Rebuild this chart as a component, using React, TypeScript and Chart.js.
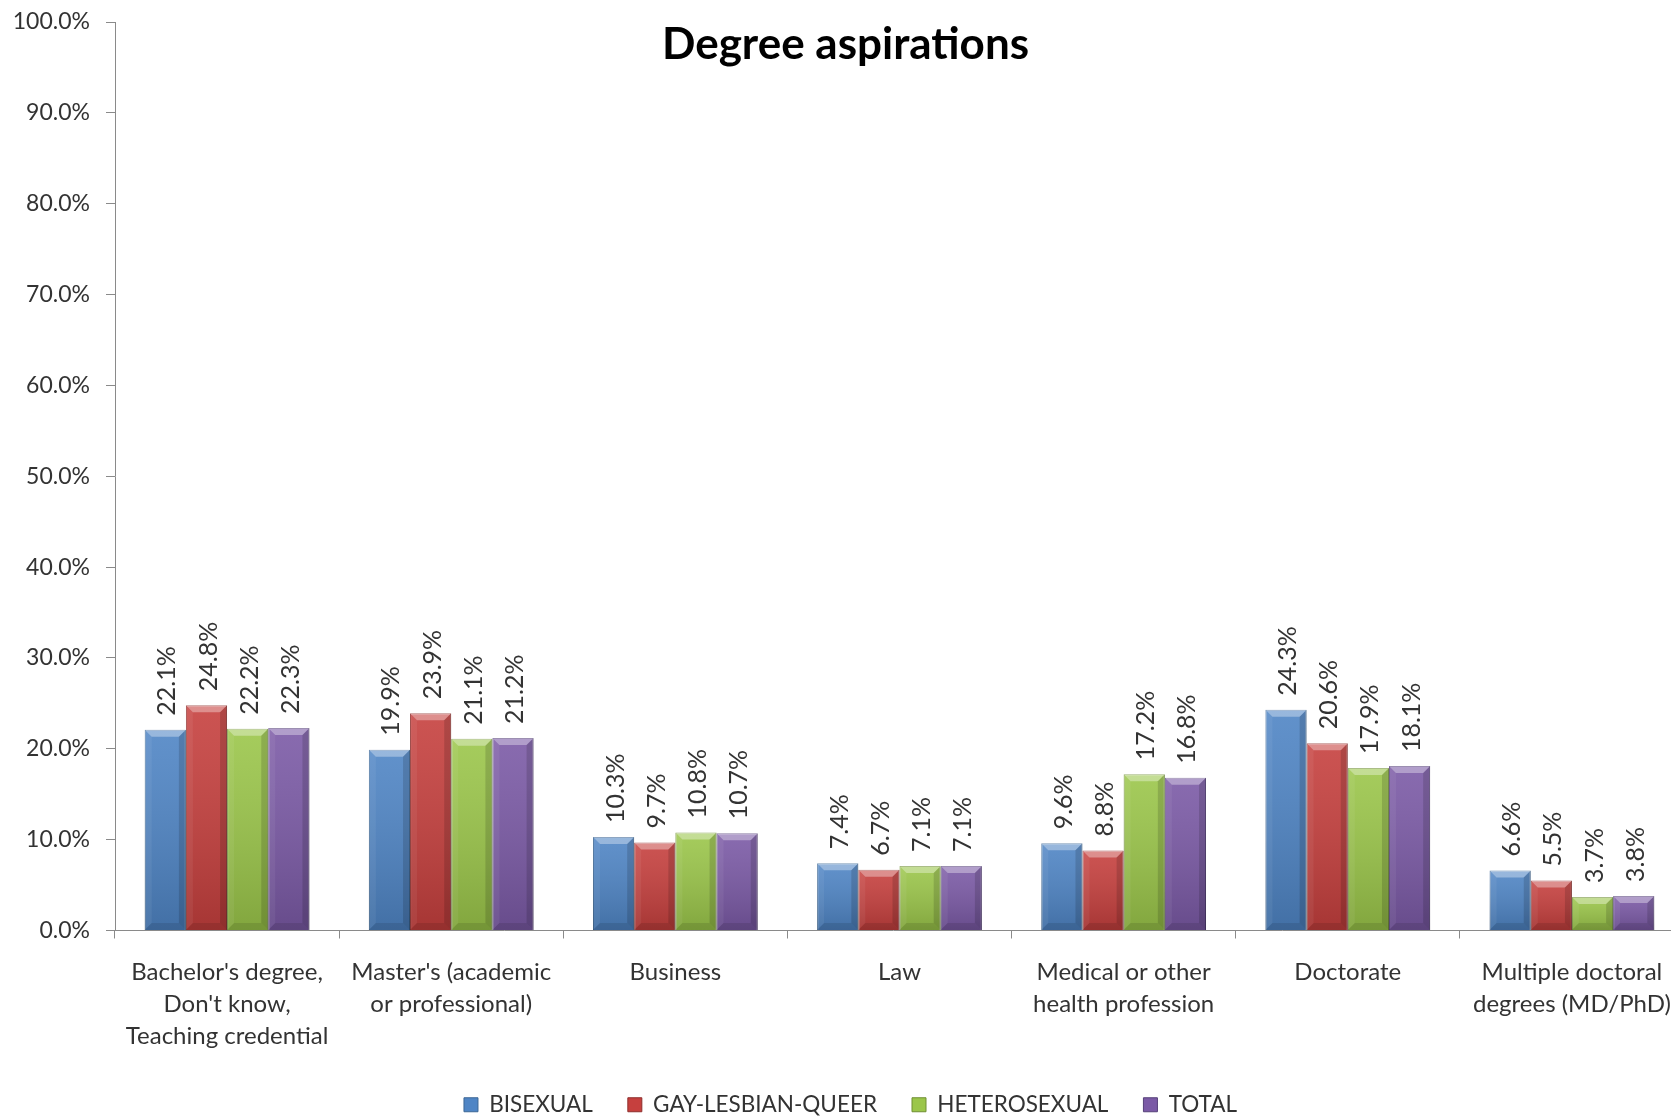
import React, { useEffect, useRef } from "react";
import { Chart, registerables } from "chart.js";

Chart.register(...registerables);

// ---------- data ----------
const categories: (string | string[])[] = [
  ["Bachelor's degree,", "Don't know,", "Teaching credential"],
  ["Master's (academic", "or professional)"],
  "Business",
  "Law",
  ["Medical or other", "health profession"],
  "Doctorate",
  ["Multiple doctoral", "degrees (MD/PhD)"],
];
const seriesNames = ["BISEXUAL", "GAY-LESBIAN-QUEER", "HETEROSEXUAL", "TOTAL"];
const bisexual = [22.1, 19.9, 10.3, 7.4, 9.6, 24.3, 6.6];
const gayLesbianQueer = [24.8, 23.9, 9.7, 6.7, 8.8, 20.6, 5.5];
const heterosexual = [22.2, 21.1, 10.8, 7.1, 17.2, 17.9, 3.7];
const total = [22.3, 21.2, 10.7, 7.1, 16.8, 18.1, 3.8];
const yMin = 0;
const yMax = 100;
const yStep = 10;
const chartTitle = "Degree aspirations";

// ---------- styles ----------
const seriesColors = ["#4F85C5", "#C6403E", "#9BC64A", "#7B5AA6"];
const seriesBorders = ["#3C6796", "#8E2E2C", "#6F8F33", "#56407A"];
const FONT = "Lato, 'Open Sans', sans-serif";
const TEXT = "#333333";
const AXIS = "#8a8a8a";
const W = 1671;
const H = 1126;
const RIGHT_OVERHANG = 13; // plot area runs slightly past the canvas edge, as in the reference

const bevelPlugin = {
  id: "bevel",
  afterDatasetsDraw(chart: any) {
    const ctx = chart.ctx;
    chart.data.datasets.forEach((_ds: any, i: number) => {
      const meta = chart.getDatasetMeta(i);
      meta.data.forEach((el: any) => {
        const { x, y, base, width } = el.getProps(["x", "y", "base", "width"], true);
        const l = x - width / 2;
        const r = x + width / 2;
        const t = Math.min(y, base);
        const b = Math.max(y, base);
        const h = b - t;
        const bv = Math.min(7, h / 3);
        ctx.save();
        const g = ctx.createLinearGradient(0, t, 0, b);
        g.addColorStop(0, "rgba(255,255,255,0.10)");
        g.addColorStop(1, "rgba(0,0,0,0.16)");
        ctx.fillStyle = g;
        ctx.fillRect(l, t, width, h);
        // top bevel
        ctx.fillStyle = "rgba(255,255,255,0.35)";
        ctx.beginPath();
        ctx.moveTo(l, t);
        ctx.lineTo(r, t);
        ctx.lineTo(r - bv, t + bv);
        ctx.lineTo(l + bv, t + bv);
        ctx.closePath();
        ctx.fill();
        // left edge
        ctx.fillStyle = "rgba(255,255,255,0.06)";
        ctx.beginPath();
        ctx.moveTo(l, t);
        ctx.lineTo(l + bv, t + bv);
        ctx.lineTo(l + bv, b - bv);
        ctx.lineTo(l, b);
        ctx.closePath();
        ctx.fill();
        // right edge
        ctx.fillStyle = "rgba(0,0,0,0.14)";
        ctx.beginPath();
        ctx.moveTo(r, t);
        ctx.lineTo(r - bv, t + bv);
        ctx.lineTo(r - bv, b - bv);
        ctx.lineTo(r, b);
        ctx.closePath();
        ctx.fill();
        // bottom edge
        ctx.fillStyle = "rgba(0,0,0,0.10)";
        ctx.beginPath();
        ctx.moveTo(l, b);
        ctx.lineTo(l + bv, b - bv);
        ctx.lineTo(r - bv, b - bv);
        ctx.lineTo(r, b);
        ctx.closePath();
        ctx.fill();
        ctx.restore();
      });
    });
  },
};

const valueLabelPlugin = {
  id: "valueLabels",
  afterDatasetsDraw(chart: any) {
    const ctx = chart.ctx;
    ctx.save();
    ctx.font = `25px ${FONT}`;
    ctx.fillStyle = TEXT;
    ctx.textAlign = "left";
    ctx.textBaseline = "middle";
    chart.data.datasets.forEach((ds: any, i: number) => {
      const meta = chart.getDatasetMeta(i);
      meta.data.forEach((el: any, j: number) => {
        const v = ds.data[j];
        const { x, y } = el.getProps(["x", "y"], true);
        ctx.save();
        ctx.translate(x + 2, y - 14);
        ctx.rotate(-Math.PI / 2);
        ctx.fillText(v.toFixed(1) + "%", 0, 0);
        ctx.restore();
      });
    });
    ctx.restore();
  },
};

const titlePlugin = {
  id: "innerTitle",
  afterDraw(chart: any) {
    const ctx = chart.ctx;
    ctx.save();
    ctx.font = `bold 44px ${FONT}`;
    ctx.fillStyle = "#000000";
    ctx.textAlign = "center";
    ctx.textBaseline = "middle";
    ctx.fillText(chartTitle, chart.width / 2 + 10, 45);
    ctx.restore();
  },
};

const layoutTweakPlugin = {
  id: "layoutTweak",
  afterLayout(chart: any) {
    if (chart.legend) {
      chart.legend.left += 15;
      chart.legend.right += 15;
    }
    const xs = chart.scales.x;
    if (xs) {
      xs.right += RIGHT_OVERHANG;
      xs.width += RIGHT_OVERHANG;
      xs.configure();
      chart.chartArea.right += RIGHT_OVERHANG;
      chart.chartArea.width += RIGHT_OVERHANG;
    }
  },
};

export default function App() {
  const ref = useRef<HTMLCanvasElement | null>(null);

  useEffect(() => {
    if (!ref.current) return;
    const seriesData = [bisexual, gayLesbianQueer, heterosexual, total];
    const chart = new Chart(ref.current, {
      type: "bar",
      data: {
        labels: categories,
        datasets: seriesNames.map((name, i) => ({
          label: name,
          data: seriesData[i],
          backgroundColor: seriesColors[i],
          borderColor: seriesBorders[i],
          borderWidth: 1,
          categoryPercentage: 0.735,
          barPercentage: 1.0,
        })),
      },
      options: {
        responsive: false,
        animation: false,
        devicePixelRatio: 1,
        layout: { padding: { top: 22, left: 0, right: 0, bottom: 0 } },
        plugins: {
          title: { display: false },
          tooltip: { enabled: false },
          legend: {
            position: "bottom",
            labels: {
              font: { family: FONT, size: 22.5 },
              color: TEXT,
              boxWidth: 14,
              boxHeight: 14,
              padding: 35,
            },
          },
        },
        scales: {
          x: {
            grid: {
              display: true,
              drawOnChartArea: false,
              drawTicks: true,
              tickLength: 8,
              color: AXIS,
              offset: true,
            },
            border: { display: true, color: AXIS, width: 1 },
            ticks: {
              font: { family: FONT, size: 24, lineHeight: 1.33 },
              color: TEXT,
              maxRotation: 0,
              minRotation: 0,
              autoSkip: false,
              padding: 18,
            },
            afterFit: (scale: any) => {
              scale.height = 128;
              scale.paddingLeft = 0;
              scale.paddingRight = 0;
            },
          },
          y: {
            min: yMin,
            max: yMax,
            grid: {
              display: true,
              drawOnChartArea: false,
              drawTicks: true,
              tickLength: 9,
              color: AXIS,
            },
            border: { display: true, color: AXIS, width: 1 },
            ticks: {
              stepSize: yStep,
              font: { family: FONT, size: 23 },
              color: TEXT,
              padding: 16,
              callback: (v: any) => Number(v).toFixed(1) + "%",
            },
            afterFit: (scale: any) => {
              scale.width = 115;
              scale.paddingTop = 0;
              scale.paddingBottom = 0;
            },
          },
        },
      },
      plugins: [bevelPlugin, valueLabelPlugin, titlePlugin, layoutTweakPlugin],
    });
    return () => chart.destroy();
  }, []);

  return (
    <div
      style={{
        position: "fixed",
        left: 0,
        top: 0,
        width: W,
        height: 1119,
        overflow: "hidden",
        background: "#ffffff",
      }}
    >
      <canvas ref={ref} width={W} height={H} style={{ display: "block", width: W, height: H }} />
    </div>
  );
}
